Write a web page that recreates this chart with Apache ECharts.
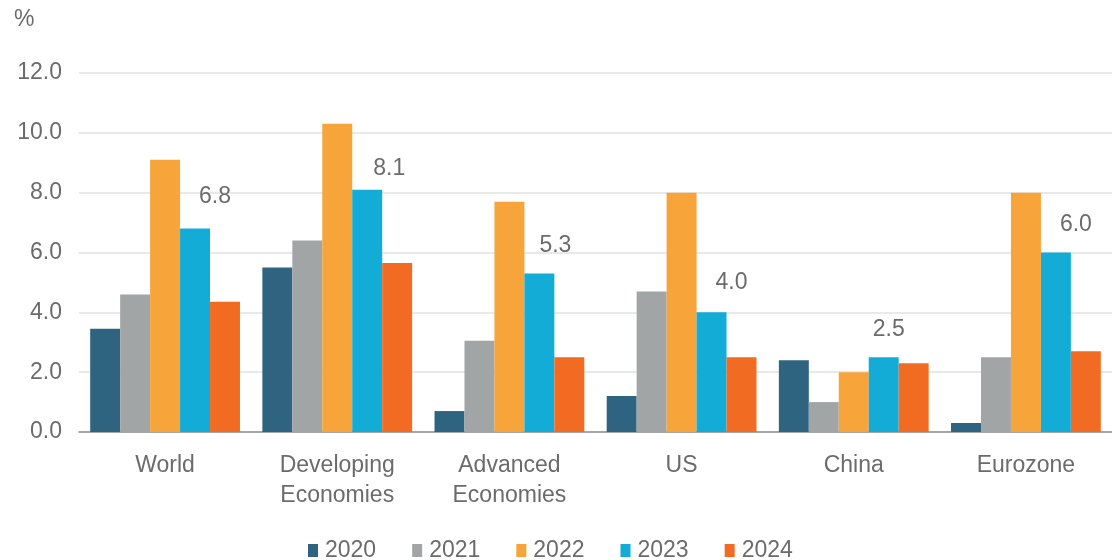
<!DOCTYPE html>
<html>
<head>
<meta charset="utf-8">
<script src="https://cdn.jsdelivr.net/npm/echarts@6/dist/echarts.min.js"></script>
<style>
  html, body { margin: 0; padding: 0; background: #fff; }
  #chart { width: 1112px; height: 560px; }
</style>
</head>
<body>
<div id="chart"></div>
<script>
// Inflation by region, 2020–2024 (%)
const categories = ['World', 'Developing\nEconomies', 'Advanced\nEconomies', 'US', 'China', 'Eurozone'];
const years = ['2020', '2021', '2022', '2023', '2024'];
const y2020 = [3.45, 5.5, 0.7, 1.2, 2.4, 0.3];
const y2021 = [4.6, 6.4, 3.05, 4.7, 1.0, 2.5];
const y2022 = [9.1, 10.3, 7.7, 8.0, 2.0, 8.0];
const y2023 = [6.8, 8.1, 5.3, 4.0, 2.5, 6.0];
const y2024 = [4.35, 5.65, 2.5, 2.5, 2.3, 2.7];
const yTicks = [0, 2, 4, 6, 8, 10, 12];

const colors = ['#2E6480', '#A2A5A6', '#F7A43A', '#12ACD7', '#F26B23'];
const textColor = '#6b6b6b';
const font = 'Liberation Sans, Arial, Helvetica, sans-serif';
const fs = 23;

// Value labels on the 2023 bars sit up and to the right of each bar
const labelShift = [[20, -4], [22, 6], [16, 0], [20, -2], [5, 0], [20, 0]];

const seriesValues = [y2020, y2021, y2022, y2023, y2024];
const series = seriesValues.map((vals, i) => {
  const s = {
    name: years[i],
    type: 'bar',
    barGap: '0%',
    barCategoryGap: '13%',
    itemStyle: { color: colors[i] },
    emphasis: { disabled: true },
    data: vals.map(v => ({ value: v }))
  };
  if (years[i] === '2023') {
    s.data = vals.map((v, j) => ({
      value: v,
      label: {
        show: true,
        position: 'top',
        distance: 16,
        offset: labelShift[j],
        formatter: p => p.value.toFixed(1),
        color: textColor,
        fontSize: fs,
        fontFamily: font
      }
    }));
  }
  return s;
});

const chart = echarts.init(document.getElementById('chart'), null, { renderer: 'canvas' });
chart.setOption({
  animation: false,
  color: colors,
  textStyle: { fontFamily: font, color: textColor },
  grid: { left: 79, width: 1035, top: 73, bottom: 128, containLabel: false },
  legend: {
    top: 534,
    left: 303,
    data: years,
    icon: 'rect',
    itemWidth: 10,
    itemHeight: 13,
    itemGap: 36,
    textStyle: { fontSize: fs, color: textColor, fontFamily: font, padding: [0, 0, 0, 2] }
  },
  xAxis: {
    type: 'category',
    data: categories,
    axisLine: { lineStyle: { color: '#8f8f8f', width: 1.5 } },
    axisTick: { show: false },
    axisLabel: {
      color: textColor,
      fontSize: fs,
      lineHeight: 30,
      margin: 19,
      interval: 0,
      fontFamily: font
    }
  },
  yAxis: {
    type: 'value',
    name: '%',
    nameLocation: 'end',
    nameGap: 42,
    nameTextStyle: { color: textColor, fontSize: 23, align: 'left', padding: [0, 0, 0, -65], fontFamily: font },
    min: yTicks[0],
    max: yTicks[yTicks.length - 1],
    interval: yTicks[1] - yTicks[0],
    axisLine: { show: false },
    axisTick: { show: false },
    splitLine: { lineStyle: { color: '#e2e2e2', width: 1.5 } },
    axisLabel: {
      color: textColor,
      fontSize: fs,
      margin: 17,
      fontFamily: font,
      formatter: v => v.toFixed(1)
    }
  },
  series: series
});
</script>
</body>
</html>
